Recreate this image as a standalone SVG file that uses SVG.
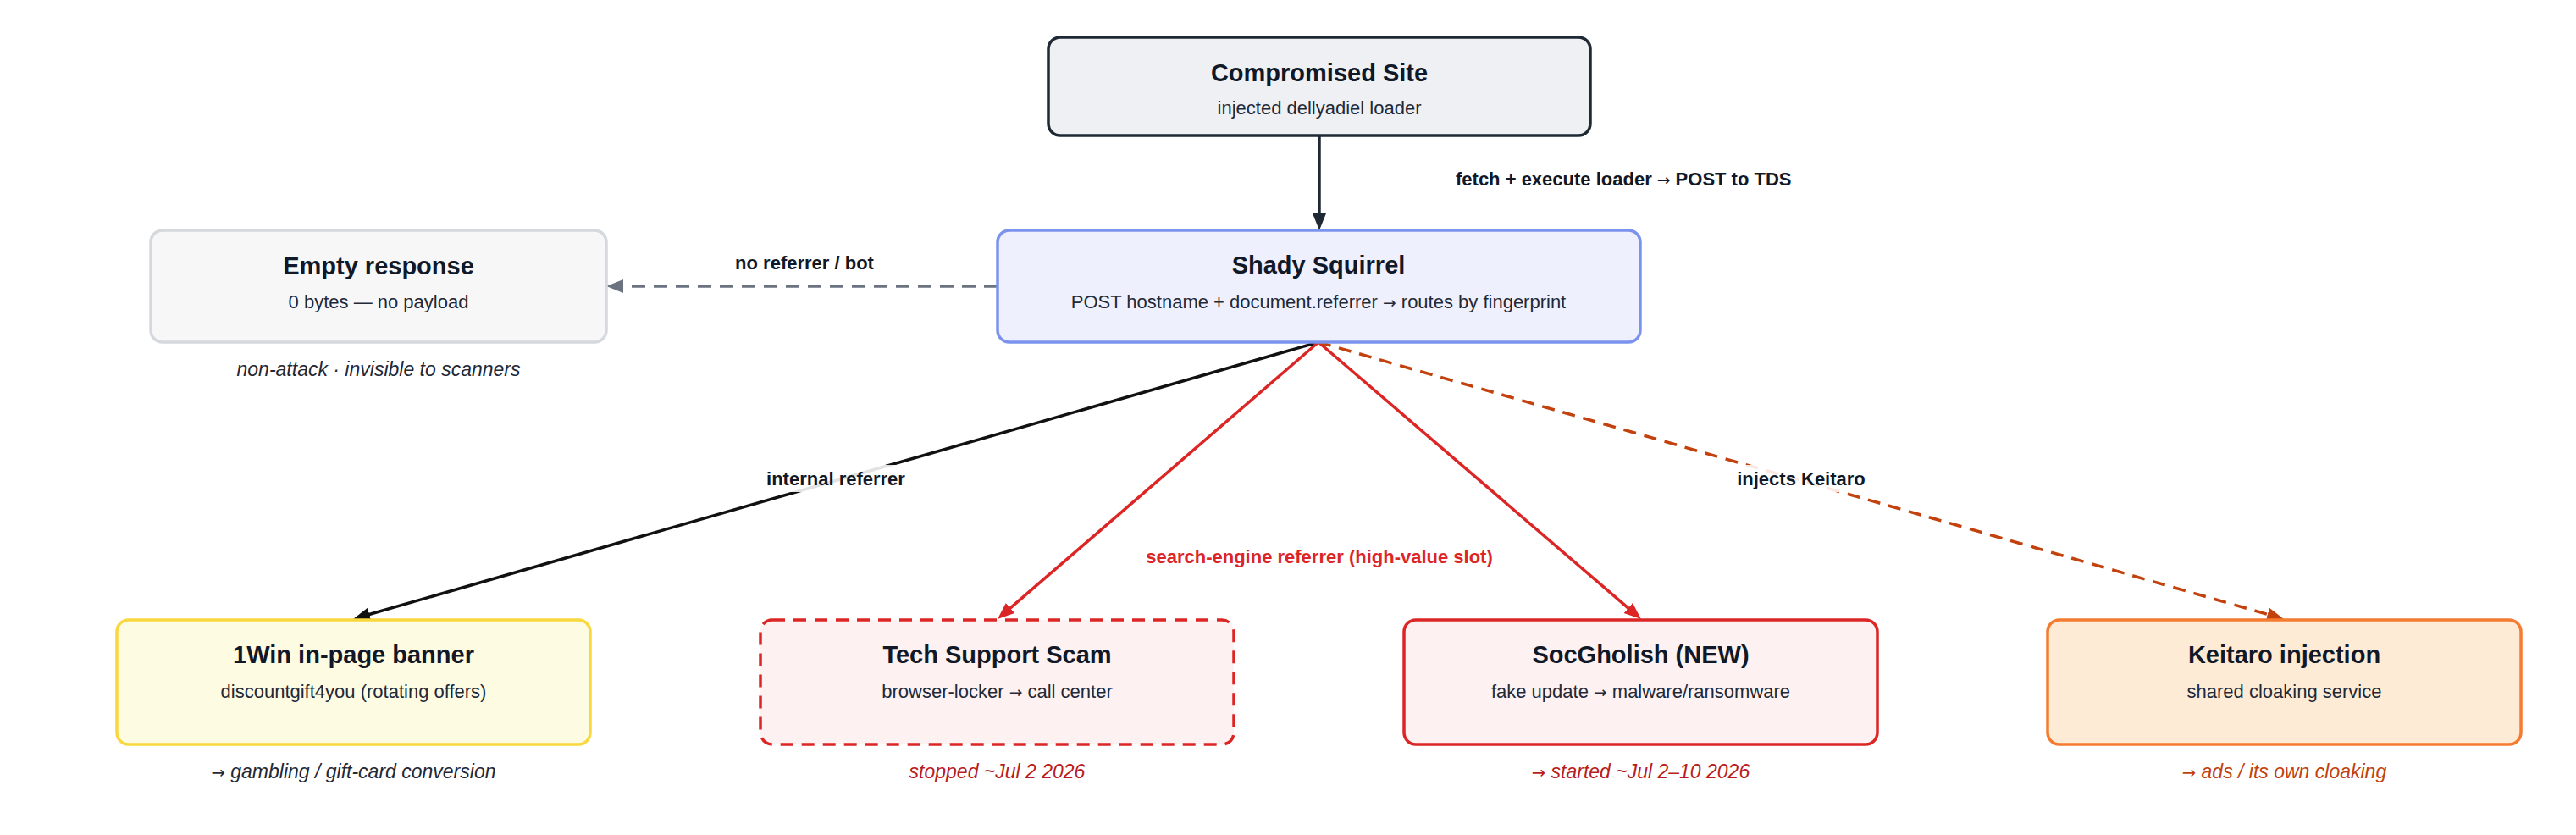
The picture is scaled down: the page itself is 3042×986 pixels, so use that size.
<svg xmlns="http://www.w3.org/2000/svg" width="3042" height="986" viewBox="0 0 3042 986">
<style>
text{font-family:"Liberation Sans",Arial,Helvetica,sans-serif}
.t{font-size:29px;font-weight:bold;fill:#111827;text-anchor:middle}
.s{font-size:22px;fill:#1f2937;text-anchor:middle}
.n{font-size:23px;font-style:italic;text-anchor:middle}
.el{font-size:22px;font-weight:bold;fill:#111827;text-anchor:middle}
.ar{font-family:"DejaVu Sans",sans-serif;font-style:normal;font-weight:normal;font-size:0.85em}
.box{stroke-width:3.5}
.e{fill:none;stroke-width:3.5}
.lbg{fill:#ffffff;fill-opacity:0.88}
</style>
<defs>
<marker id="aDark" markerUnits="userSpaceOnUse" markerWidth="22" markerHeight="18" refX="14" refY="8" orient="auto"><path d="M0,0 L20,8 L0,16 z" fill="#1f2933"/></marker>
<marker id="aBlack" markerUnits="userSpaceOnUse" markerWidth="22" markerHeight="18" refX="14" refY="8" orient="auto"><path d="M0,0 L20,8 L0,16 z" fill="#111111"/></marker>
<marker id="aGray" markerUnits="userSpaceOnUse" markerWidth="22" markerHeight="18" refX="14" refY="8" orient="auto"><path d="M0,0 L20,8 L0,16 z" fill="#6b7280"/></marker>
<marker id="aRed" markerUnits="userSpaceOnUse" markerWidth="22" markerHeight="18" refX="14" refY="8" orient="auto"><path d="M0,0 L20,8 L0,16 z" fill="#dc2626"/></marker>
<marker id="aOrange" markerUnits="userSpaceOnUse" markerWidth="22" markerHeight="18" refX="14" refY="8" orient="auto"><path d="M0,0 L20,8 L0,16 z" fill="#c2410c"/></marker>
</defs>
<rect width="3042" height="986" fill="#ffffff"/>

<g id="connectors">
<line class="e" x1="1558" y1="160" x2="1558" y2="266" stroke="#1f2933" stroke-width="4" marker-end="url(#aDark)"/>
<text class="el" x="1719" y="219" style="text-anchor:start">fetch + execute loader <tspan class="ar">→</tspan> POST to TDS</text>

<line class="e" x1="1178" y1="338" x2="722" y2="338" stroke="#6b7280" stroke-dasharray="16 10" marker-end="url(#aGray)"/>
<text class="el" x="950" y="318">no referrer / bot</text>

<line class="e" x1="1557" y1="404" x2="422.8" y2="729.3" stroke="#111111" marker-end="url(#aBlack)"/>
<line class="e" x1="1557" y1="404" x2="1182.5" y2="727.1" stroke="#dc2626" marker-end="url(#aRed)"/>
<line class="e" x1="1557" y1="404" x2="1933.4" y2="727.1" stroke="#dc2626" marker-end="url(#aRed)"/>
<line class="e" x1="1557" y1="404" x2="2691.2" y2="729.3" stroke="#c2410c" stroke-dasharray="15 10" marker-end="url(#aOrange)"/>

<rect class="lbg" x="900" y="549" width="174" height="32" rx="4"/>
<text class="el" x="987" y="573">internal referrer</text>
<rect class="lbg" x="2045" y="549" width="164" height="32" rx="4"/>
<text class="el" x="2127" y="573">injects Keitaro</text>
<text class="el" x="1558" y="665" style="fill:#dc2626">search-engine referrer (high-value slot)</text>
</g>

<g id="compromised-site">
<rect class="box" x="1238" y="44" width="640" height="116" rx="14" fill="#eef0f4" stroke="#1f2933"/>
<text class="t" x="1558" y="96">Compromised Site</text>
<text class="s" x="1558" y="135">injected dellyadiel loader</text>
</g>

<g id="shady-squirrel">
<rect class="box" x="1178" y="272" width="759" height="132" rx="14" fill="#eff0fd" stroke="#7c93ee"/>
<text class="t" x="1557" y="323">Shady Squirrel</text>
<text class="s" x="1557" y="364">POST hostname + document.referrer <tspan class="ar">→</tspan> routes by fingerprint</text>
</g>

<g id="empty-response">
<rect class="box" x="178" y="272" width="538" height="132" rx="14" fill="#f7f7f8" stroke="#d5d8dd" stroke-width="3"/>
<text class="t" x="447" y="324">Empty response</text>
<text class="s" x="447" y="364">0 bytes — no payload</text>
<text class="n" x="447" y="444" fill="#1f2937">non-attack · invisible to scanners</text>
</g>

<g id="onewin-banner">
<rect class="box" x="138" y="732" width="559" height="147" rx="14" fill="#fefbe3" stroke="#f9d83f"/>
<text class="t" x="417.5" y="783">1Win in-page banner</text>
<text class="s" x="417.5" y="824">discountgift4you (rotating offers)</text>
<text class="n" x="417.5" y="919" fill="#1f2937"><tspan class="ar">→</tspan> gambling / gift-card conversion</text>
</g>

<g id="tech-support-scam">
<rect class="box" x="898" y="732" width="559" height="147" rx="14" fill="#fdf1f1" stroke="#dc2626" stroke-dasharray="15 10"/>
<text class="t" x="1177.5" y="783">Tech Support Scam</text>
<text class="s" x="1177.5" y="824">browser-locker <tspan class="ar">→</tspan> call center</text>
<text class="n" x="1177.5" y="919" fill="#b91c1c">stopped ~Jul 2 2026</text>
</g>

<g id="socgholish">
<rect class="box" x="1658" y="732" width="559" height="147" rx="14" fill="#fdf1f1" stroke="#dc2626"/>
<text class="t" x="1937.5" y="783">SocGholish (NEW)</text>
<text class="s" x="1937.5" y="824">fake update <tspan class="ar">→</tspan> malware/ransomware</text>
<text class="n" x="1937.5" y="919" fill="#b91c1c"><tspan class="ar">→</tspan> started ~Jul 2–10 2026</text>
</g>

<g id="keitaro-injection">
<rect class="box" x="2418" y="732" width="559" height="147" rx="14" fill="#feebd5" stroke="#f47b2f"/>
<text class="t" x="2697.5" y="783">Keitaro injection</text>
<text class="s" x="2697.5" y="824">shared cloaking service</text>
<text class="n" x="2697.5" y="919" fill="#c2410c"><tspan class="ar">→</tspan> ads / its own cloaking</text>
</g>
</svg>
